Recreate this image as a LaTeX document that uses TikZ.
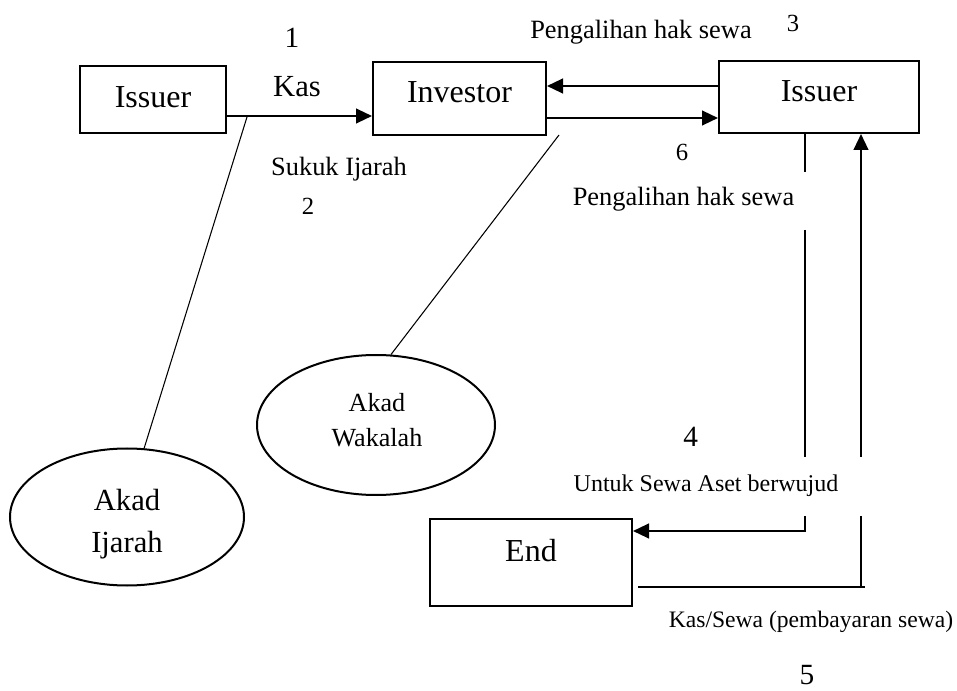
\documentclass[tikz,border=0pt]{standalone}
\usepackage{fontspec}
\setmainfont{Liberation Serif}
\usetikzlibrary{arrows.meta,shapes.geometric}
\newcommand{\fsz}[2]{\fontsize{#1}{#2}\selectfont}
\begin{document}
\begin{tikzpicture}[x=0.75pt,y=-0.75pt,
  box/.style={draw, rectangle, line width=1.5pt, inner sep=0pt, text height=16pt, font=\fsz{24}{28}},
  oval/.style={draw, ellipse, line width=1.5pt, inner sep=0pt},
  arr/.style={line width=1.7pt, -{Triangle[length=12pt,width=11pt]}},
  thickln/.style={line width=1.7pt},
  lnthin/.style={line width=0.8pt},
  lbl/.style={anchor=base, inner sep=0pt}]
\useasboundingbox (0,0) rectangle (957,691);

% boxes
\node[box, minimum width=146*0.75pt, minimum height=67*0.75pt, text depth=3.25pt] (issuerL) at (153,99.5) {Issuer};
\node[box, minimum width=173*0.75pt, minimum height=73*0.75pt, text depth=9.25pt] (investor) at (459.5,98.5) {Investor};
\node[box, minimum width=200*0.75pt, minimum height=72*0.75pt, text depth=8.5pt] (issuerR) at (819,97) {Issuer};
\node[box, minimum width=202*0.75pt, minimum height=87*0.75pt, text depth=18.25pt] (endbox) at (531,562.5) {End};

% ellipses
\node[oval, minimum width=234*0.75pt, minimum height=137*0.75pt] (ijarah) at (127,517) {};
\node[lbl, align=center, font=\fsz{23}{31.5}] (ijtxt) at (127,552) {Akad\\Ijarah};
\node[oval, minimum width=238*0.75pt, minimum height=140*0.75pt] (wakalah) at (376,425) {};
\node[lbl, align=center, font=\fsz{19.6}{26.25}] (wktxt) at (377,447) {Akad\\Wakalah};

% top arrows
\coordinate (kasY) at (0,116);
\coordinate (topY) at (0,86);
\coordinate (botY) at (0,118);
\draw[arr] (issuerL.east |- kasY) -- (investor.west |- kasY);
\draw[arr] (issuerR.west |- topY) -- (investor.east |- topY);
\draw[arr] (investor.east |- botY) -- (issuerR.west |- botY);

% diagonal lines
\coordinate (ijA) at (247,117);
\draw[lnthin] (ijA) -- (ijarah.76);
\coordinate (wkA) at (559,135);
\draw[lnthin] (wkA) -- (wakalah.78);

% right thin line to End
\coordinate (vA) at (805,172);
\coordinate (vB) at (805,230);
\coordinate (vC) at (805,457);
\coordinate (vD) at (805,516);
\coordinate (vE) at (805,531);
\draw[lnthin] (issuerR.south -| vA) -- (vA);
\draw[lnthin] (vB) -- (vC);
\draw[arr] (vD) -- (vE) -- (endbox.east |- vE);

% thick return line
\coordinate (tA) at (861,587);
\coordinate (tB) at (861,516);
\coordinate (tC) at (861,457);
\coordinate (bE) at (865,587);
\draw[thickln] (tA) -- (tB);
\draw[arr] (tC) -- (issuerR.south -| tC);
\draw[lnthin] ([xshift=3.75pt]endbox.east |- tA) -- (bE);

% labels
\node[lbl, font=\fsz{22}{26}] (n1) at (292,48) {1};
\node[lbl, font=\fsz{23}{27}] (kas) at (297,97) {Kas};
\node[lbl, font=\fsz{19.8}{24}] (sukuk) at (339,176) {Sukuk Ijarah};
\node[lbl, font=\fsz{18.5}{22}] (n2) at (308,215) {2};
\node[lbl, font=\fsz{19.8}{24}] (peng1) at (641,39) {Pengalihan hak sewa};
\node[lbl, font=\fsz{18.5}{22}] (n3) at (793,32) {3};
\node[lbl, font=\fsz{18.5}{22}] (n6) at (682,161) {6};
\node[lbl, font=\fsz{19.8}{24}] (peng2) at (683.5,206) {Pengalihan hak sewa};
\node[lbl, font=\fsz{22}{26}] (n4) at (690.6,447) {4};
\node[lbl, font=\fsz{18}{22}] (untuk) at (706,492) {Untuk Sewa Aset berwujud};
\node[lbl, font=\fsz{17.7}{21}] (kassewa) at (811,627) {Kas/Sewa (pembayaran sewa)};
\node[lbl, font=\fsz{22}{26}] (n5) at (807,684) {5};
\end{tikzpicture}
\end{document}
